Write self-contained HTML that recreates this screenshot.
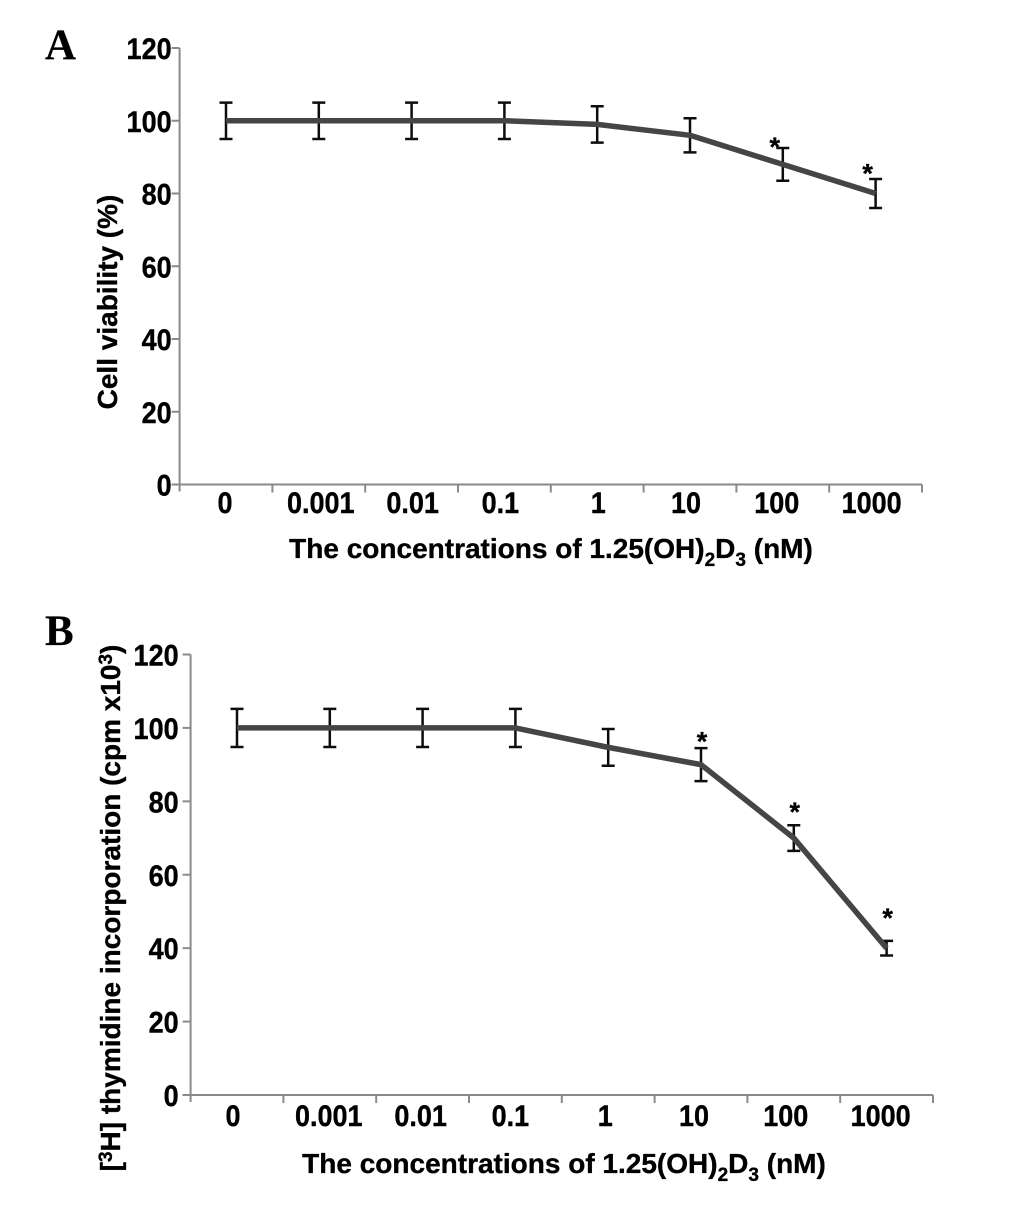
<!DOCTYPE html>
<html lang="en">
<head>
<meta charset="utf-8">
<title>Cell viability and thymidine incorporation charts</title>
<style>
html,body{margin:0;padding:0;background:#fff;width:1033px;height:1231px;overflow:hidden}
svg{display:block}
text{font-family:"Liberation Sans",Arial,sans-serif;font-weight:bold;fill:#000;stroke:#000;stroke-width:0.35px}
.panel-letter{font-family:"Liberation Serif","Times New Roman",serif;font-size:43px;fill:#000;stroke-width:0.2px}
.tick{font-size:27px}
.title{font-size:28px}
.sub{font-size:19px}
</style>
</head>
<body>
<svg id="figure" xmlns="http://www.w3.org/2000/svg" width="1033" height="1231" viewBox="0 0 1033 1231">
  <defs><filter id="soft" x="-2%" y="-2%" width="104%" height="104%"><feGaussianBlur stdDeviation="0.35"/></filter></defs>
  <g id="root" filter="url(#soft)">
    <text class="panel-letter" x="45" y="59">A</text>
    <text class="panel-letter" x="45" y="645">B</text>

    <text class="title" transform="translate(117,302) rotate(-90)" text-anchor="middle">Cell viability (%)</text>
    <text class="title" transform="translate(120,908) rotate(-90)" text-anchor="middle">[<tspan class="sub" dy="-8">3</tspan><tspan dy="8">H] thymidine incorporation (cpm x10</tspan><tspan class="sub" dy="-8">3</tspan><tspan dy="8">)</tspan></text>

    <text class="title" x="551" y="558" text-anchor="middle">The concentrations of 1.25(OH)<tspan class="sub" dy="8">2</tspan><tspan dy="-8">D</tspan><tspan class="sub" dy="8">3</tspan><tspan dy="-8"> (nM)</tspan></text>
    <text class="title" x="564" y="1173" text-anchor="middle">The concentrations of 1.25(OH)<tspan class="sub" dy="8">2</tspan><tspan dy="-8">D</tspan><tspan class="sub" dy="8">3</tspan><tspan dy="-8"> (nM)</tspan></text>
  </g>
</svg>
<script>
// Chart data
const categories = ["0", "0.001", "0.01", "0.1", "1", "10", "100", "1000"];
const yTickValues = [0, 20, 40, 60, 80, 100, 120];

const viabilityValues = [100, 100, 100, 100, 99, 96, 88, 80];
const viabilityErrors = [5, 5, 5, 5, 5, 4.7, 4.5, 4];
const viabilityStarCategories = ["100", "1000"];
const viabilityStarLevels = [94.4, 87.2];

const thymidineValues = [100, 100, 100, 100, 94.7, 90, 70, 40];
const thymidineErrors = [5.2, 5.2, 5.2, 5.2, 5, 4.5, 3.5, 2];
const thymidineStarCategories = ["10", "100", "1000"];
const thymidineStarLevels = [98, 78.7, 49.9];

const SVG_NS = "http://www.w3.org/2000/svg";
const root = document.getElementById("root");

function add(tag, attrs, text) {
  const el = document.createElementNS(SVG_NS, tag);
  for (const k in attrs) el.setAttribute(k, attrs[k]);
  if (text !== undefined) el.textContent = text;
  root.appendChild(el);
  return el;
}

function drawPanel(p, values, errors, starCats, starLevels) {
  const band = 92.8;
  const x = function (i) { return p.left + band * (i + 0.5); };
  const xEdge = function (i) { return p.left + band * i; };
  const y = function (v) { return p.bottom - (v / 120) * (p.bottom - p.top); };

  // Axes
  const yAxis = add("line", {x1: p.left, x2: p.left, y1: y(120), y2: y(0) + 7, stroke: "#8a8a8a", "stroke-width": 2});
  
  
  const xAxis = add("line", {x1: p.left - 8, x2: xEdge(categories.length), y1: y(0), y2: y(0), stroke: "#8a8a8a", "stroke-width": 2});
  
  

  // Y ticks and labels
  yTickValues.forEach(function (v) {
    const t = add("line", {x1: p.left - 8, x2: p.left, y1: y(v), y2: y(v), stroke: "#8a8a8a", "stroke-width": 2});
    
    
    const l = add("text", {class: "tick", transform: "translate(" + (p.left - p.labelGap) + "," + (y(v) + 11) + ") scale(1,1.08)", "text-anchor": "end"}, String(v));
    
    
  });

  // X ticks
  for (let i = 1; i <= categories.length; i++) {
    const t = add("line", {x1: xEdge(i), x2: xEdge(i), y1: y(0), y2: y(0) + 8, stroke: "#8a8a8a", "stroke-width": 2});
    
    
  }

  // X labels
  categories.forEach(function (c, i) {
    const l = add("text", {class: "tick", transform: "translate(" + (x(i) + p.labelNudge[i]) + "," + p.labelBaseline + ") scale(1,1.08)", "text-anchor": "middle"}, c);
    
    
  });

  // Error bars
  values.forEach(function (v, i) {
    const top = y(v + errors[i]), bot = y(v - errors[i]), cx = x(i);
    const d = "M" + cx + " " + top + "V" + bot +
      "M" + (cx - 6.5) + " " + top + "H" + (cx + 6.5) +
      "M" + (cx - 6.5) + " " + bot + "H" + (cx + 6.5);
    const e = add("path", {d: d, fill: "none", stroke: "#111", "stroke-width": 2.5});
    
    
  });

  // Series line
  const pts = values.map(function (v, i) { return x(i) + "," + y(v); }).join(" ");
  const line = add("polyline", {points: pts, fill: "none", stroke: "#444", "stroke-width": 5.5, "stroke-linejoin": "round"});
  
  

  // Significance asterisks
  starCats.forEach(function (c, k) {
    const i = categories.indexOf(c);
    const s = add("text", {x: x(i) + p.starNudge, y: y(starLevels[k]) + 15, "text-anchor": "middle", style: "font-size:27px"}, "*");
    
    
  });
}

drawPanel({id: "panel-a", left: 179.6, top: 48, bottom: 484.5, labelBaseline: 513, labelGap: 8,
           labelNudge: [-1, 2, 1, -4, 1, -4, -6, -4], starNudge: -8},
          viabilityValues, viabilityErrors, viabilityStarCategories, viabilityStarLevels);
drawPanel({id: "panel-b", left: 190.6, top: 654.5, bottom: 1095, labelBaseline: 1126, labelGap: 12,
           labelNudge: [-4, -1, -2, -5, -3, -7, -8, -6], starNudge: 1},
          thymidineValues, thymidineErrors, thymidineStarCategories, thymidineStarLevels);
</script>
</body>
</html>
